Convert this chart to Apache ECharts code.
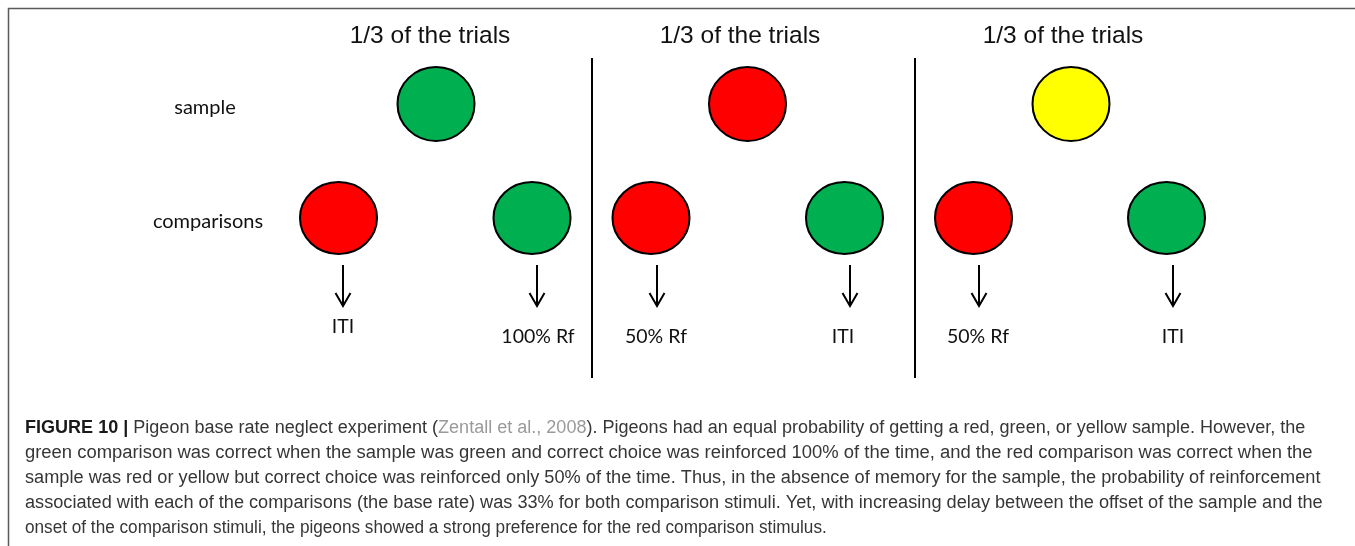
<!DOCTYPE html>
<html><head><meta charset="utf-8">
<script src="https://cdn.jsdelivr.net/npm/echarts@6/dist/echarts.min.js"></script>
<style>html,body{margin:0;padding:0;background:#fff}#c{width:1355px;height:546px}</style>
</head><body><div id="c"></div>
<script>
// ---- data ----
const panelTitles = ['1/3 of the trials', '1/3 of the trials', '1/3 of the trials'];
const panelTitleX = [430, 740, 1063];
const panelTitleY = [36, 36, 36];
const sampleX = [436, 747.5, 1071];
const sampleY = [104, 104, 104];
const sampleColors = ['#00b050', '#ff0000', '#ffff00'];
const comparisonX = [338.5, 532, 651, 844.5, 973.5, 1166.5];
const comparisonY = [218, 218, 218, 218, 218, 218];
const comparisonColors = ['#ff0000', '#00b050', '#ff0000', '#00b050', '#ff0000', '#00b050'];
const arrowX = [343, 537, 657, 850, 979, 1173];
const arrowTop = [265, 265, 265, 265, 265, 265];
const arrowBottom = [306, 306, 306, 306, 306, 306];
const outcomeLabels = ['ITI', '100% Rf', '50% Rf', 'ITI', '50% Rf', 'ITI'];
const outcomeX = [343, 538, 656, 843, 978, 1173];
const outcomeY = [326.5, 337, 336.5, 336.5, 336.5, 336.5];
const dividerX = [592, 915];
const dividerTop = [58, 58];
const dividerBottom = [378, 378];
const rowLabels = ['sample', 'comparisons'];
const rowLabelX = [205, 208];
const rowLabelY = [108, 222];
const captionLines = [
  'Pigeon base rate neglect experiment (',
  'green comparison was correct when the sample was green and correct choice was reinforced 100% of the time, and the red comparison was correct when the',
  'sample was red or yellow but correct choice was reinforced only 50% of the time. Thus, in the absence of memory for the sample, the probability of reinforcement',
  'associated with each of the comparisons (the base rate) was 33% for both comparison stimuli. Yet, with increasing delay between the offset of the sample and the',
  'onset of the comparison stimuli, the pigeons showed a strong preference for the red comparison stimulus.'
];
const captionLabel = 'FIGURE 10 |';
const captionCitation = 'Zentall et al., 2008';
const captionLine1Tail = '). Pigeons had an equal probability of getting a red, green, or yellow sample. However, the';

// ---- chart ----
const chart = echarts.init(document.getElementById('c'));
const W = 1355, H = 546;

function textSeries(labels, xs, ys, font, fill) {
  return {
    type: 'custom',
    coordinateSystem: 'cartesian2d',
    data: labels.map((l, i) => [xs[i], ys[i]]),
    silent: true,
    renderItem: (params, api) => {
      const p = api.coord([api.value(0), api.value(1)]);
      return {
        type: 'text', x: p[0], y: p[1],
        style: { text: labels[params.dataIndex], font: font, fill: fill,
          align: 'center', verticalAlign: 'middle', textAlign: 'center', textVerticalAlign: 'middle' }
      };
    }
  };
}

const captionFont = '18px "Liberation Sans", Arial, sans-serif';
const captionColor = '#363636';
const captionTop = 428, captionStep = 25;
// horizontal fit of each caption line to the reference line lengths
const captionFit = [1.002, 1.023, 1.010, 1.0085, 0.954];
const graphics = [
  { type: 'polyline', shape: { points: [[8.5, H], [8.5, 8.5], [W, 8.5]] }, style: { stroke: '#5a5a5a', lineWidth: 1.5, fill: null }, silent: true },
  {
    type: 'text', x: 25, y: captionTop, scaleX: captionFit[0],
    style: {
      text: '{b|' + captionLabel + '} ' + captionLines[0] + '{l|' + captionCitation + '}' + captionLine1Tail,
      font: captionFont, fill: captionColor, verticalAlign: 'middle', textVerticalAlign: 'middle',
      rich: {
        b: { font: 'bold 18px "Liberation Sans", Arial, sans-serif', fill: '#1a1a1a' },
        l: { font: captionFont, fill: '#9a9a9a' }
      }
    }, silent: true
  }
];
for (let i = 1; i < captionLines.length; i++) {
  graphics.push({ type: 'text', x: 25, y: captionTop + captionStep * i, scaleX: captionFit[i],
    style: { text: captionLines[i], font: captionFont, fill: captionColor, verticalAlign: 'middle', textVerticalAlign: 'middle' }, silent: true });
}

chart.setOption({
  animation: false,
  backgroundColor: '#fff',
  grid: { left: 0, right: 0, top: 0, bottom: 0 },
  xAxis: { type: 'value', min: 0, max: W, show: false },
  yAxis: { type: 'value', min: 0, max: H, inverse: true, show: false },
  graphic: graphics,
  series: [
    {
      type: 'custom', silent: true,
      data: dividerX.map((x, i) => [x, dividerTop[i], dividerBottom[i]]),
      renderItem: (params, api) => {
        const a = api.coord([api.value(0), api.value(1)]);
        const b = api.coord([api.value(0), api.value(2)]);
        return { type: 'line', shape: { x1: a[0], y1: a[1], x2: b[0], y2: b[1] }, style: { stroke: '#000', lineWidth: 2 } };
      }
    },
    {
      type: 'scatter', silent: true, symbol: 'circle', symbolSize: [77, 74],
      data: sampleX.map((x, i) => ({ value: [x, sampleY[i]], itemStyle: { color: sampleColors[i] } })),
      itemStyle: { borderColor: '#000', borderWidth: 2, opacity: 1 }
    },
    {
      type: 'scatter', silent: true, symbol: 'circle', symbolSize: [77, 72],
      data: comparisonX.map((x, i) => ({ value: [x, comparisonY[i]], itemStyle: { color: comparisonColors[i] } })),
      itemStyle: { borderColor: '#000', borderWidth: 2, opacity: 1 }
    },
    {
      type: 'custom', silent: true,
      data: arrowX.map((x, i) => [x, arrowTop[i], arrowBottom[i]]),
      renderItem: (params, api) => {
        const a = api.coord([api.value(0), api.value(1)]);
        const b = api.coord([api.value(0), api.value(2)]);
        return {
          type: 'group', children: [
            { type: 'line', shape: { x1: a[0], y1: a[1], x2: b[0], y2: b[1] - 1 }, style: { stroke: '#000', lineWidth: 2 } },
            { type: 'polyline', shape: { points: [[b[0] - 7.5, b[1] - 13], [b[0], b[1]], [b[0] + 7.5, b[1] - 13]] }, style: { stroke: '#000', lineWidth: 2, fill: null } }
          ]
        };
      }
    },
    textSeries(panelTitles, panelTitleX, panelTitleY, '24.5px "Liberation Sans", Arial, sans-serif', '#111'),
    textSeries(rowLabels, rowLabelX, rowLabelY, '20px Lato, "Open Sans", sans-serif', '#111'),
    textSeries(outcomeLabels, outcomeX, outcomeY, '19.5px Lato, "Open Sans", sans-serif', '#111')
  ]
});
</script>
</body></html>
